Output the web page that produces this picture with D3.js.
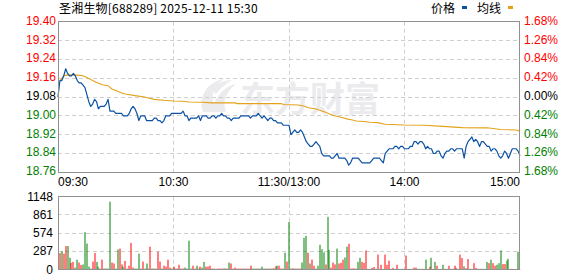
<!DOCTYPE html>
<html><head><meta charset="utf-8">
<script src="https://cdn.jsdelivr.net/npm/d3@7"></script>
<style>html,body{margin:0;padding:0;background:#fff;}svg{display:block;}</style>
</head><body>
<svg id="c" width="578" height="276"></svg>
<script>
const title = "圣湘生物[688289] 2025-12-11 15:30";
const prevClose = 19.08;
const priceTicks = [19.40, 19.32, 19.24, 19.16, 19.08, 19.00, 18.92, 18.84, 18.76];
const pctLabels = ["1.68%", "1.26%", "0.84%", "0.42%", "0.00%", "0.42%", "0.84%", "1.26%", "1.68%"];
const volTicks = [1148, 861, 574, 287, 0];
const timeLabels = ["09:30", "10:30", "11:30/13:00", "14:00", "15:00"];
const timeIdx = [0, 60, 120, 180, 240];

const prices = [
19.08,19.15,19.15,19.17,19.20,19.18,19.17,19.17,19.18,19.17,
19.15,19.14,19.14,19.13,19.12,19.09,19.06,19.04,19.05,19.07,
19.06,19.03,19.04,19.04,19.04,19.05,19.07,19.02,19.02,19.02,
19.01,19.01,19.01,19.01,19.00,19.00,19.00,19.01,19.03,19.04,
19.03,19.01,18.98,19.00,19.00,19.00,18.98,18.98,18.98,18.98,
18.99,18.99,18.98,18.98,18.97,18.98,19.00,19.00,19.00,19.01,
19.01,19.01,19.01,19.01,19.01,19.02,19.00,19.00,18.98,18.99,
18.99,18.99,18.99,19.00,18.98,19.00,19.00,19.00,18.99,18.99,
19.00,19.00,18.99,19.00,19.00,19.01,19.00,19.00,18.99,18.99,
18.98,18.99,18.99,18.99,18.99,19.00,19.00,19.00,19.00,19.00,
18.99,19.00,19.00,19.00,19.01,19.00,18.99,19.00,18.99,18.98,
18.99,18.99,18.98,18.98,18.97,18.97,18.97,18.96,18.96,18.96,
18.96,18.92,18.93,18.94,18.93,18.93,18.94,18.93,18.91,18.89,
18.88,18.87,18.87,18.88,18.89,18.88,18.87,18.84,18.83,18.83,
18.83,18.83,18.82,18.82,18.83,18.84,18.82,18.82,18.82,18.82,
18.81,18.79,18.80,18.82,18.82,18.82,18.82,18.81,18.80,18.80,
18.80,18.80,18.80,18.81,18.82,18.82,18.82,18.82,18.81,18.80,
18.84,18.85,18.86,18.86,18.86,18.87,18.87,18.86,18.87,18.87,
18.86,18.86,18.86,18.87,18.87,18.89,18.89,18.88,18.89,18.89,
18.88,18.86,18.87,18.86,18.86,18.84,18.84,18.85,18.85,18.83,
18.82,18.84,18.85,18.85,18.86,18.86,18.85,18.86,18.86,18.86,
18.86,18.82,18.87,18.89,18.90,18.91,18.89,18.90,18.89,18.87,
18.89,18.89,18.88,18.87,18.87,18.85,18.86,18.86,18.85,18.83,
18.82,18.83,18.85,18.84,18.82,18.84,18.86,18.86,18.86,18.85,
18.83
];

const avgIdx = [1,3,5,10,13,15,18,20,23,26,28,30,33,35,40,45,48,50,55,60,65,68,75,80,92,93,116,117,125,128,130,134,136,139,141,143,146,148,150,153,155,159,162,166,170,180,190,200,210,223,230,238,240];
const avgVals = [19.150,19.170,19.174,19.173,19.170,19.163,19.150,19.142,19.132,19.128,19.114,19.108,19.097,19.093,19.086,19.080,19.074,19.070,19.066,19.063,19.062,19.059,19.058,19.055,19.055,19.052,19.052,19.048,19.046,19.041,19.034,19.029,19.024,19.015,19.008,19.001,18.996,18.992,18.987,18.982,18.978,18.976,18.973,18.971,18.964,18.961,18.960,18.955,18.950,18.949,18.942,18.940,18.935];

const volumes = [
0,260,290,250,370,370,185,105,120,30,
155,110,70,80,590,410,45,15,125,260,
120,45,15,155,15,15,15,1070,110,95,
15,315,330,80,45,135,15,60,420,30,
15,15,250,15,125,15,95,15,360,15,
15,15,280,125,15,60,45,155,30,15,
45,15,15,75,15,15,30,15,455,15,
60,15,60,15,45,30,120,45,45,60,
15,15,10,15,15,15,15,15,15,110,
95,15,30,15,15,15,15,15,15,15,
60,15,15,15,15,15,45,15,15,15,
15,15,20,50,60,60,15,15,265,125,
750,15,20,15,15,15,15,110,500,530,
265,95,155,60,15,60,390,320,270,80,
830,310,30,110,80,330,95,105,155,190,
360,405,15,15,15,15,120,185,120,105,
300,10,10,25,40,10,235,10,75,10,
235,75,140,10,25,10,75,10,10,10,
10,220,10,10,10,30,30,10,10,10,
10,155,10,45,185,10,120,60,10,10,
75,10,10,60,10,10,60,25,10,235,
180,50,20,165,10,10,100,25,10,10,
10,10,10,120,100,155,100,60,75,100,
300,85,85,140,170,10,10,5,5,280,
5
];
const volDir = [
1,1,-1,1,1,-1,-1,1,1,-1,
-1,1,1,-1,-1,-1,-1,-1,1,1,
-1,-1,1,1,-1,-1,-1,-1,1,1,
-1,-1,1,1,-1,1,1,1,1,1,
-1,-1,-1,1,1,-1,-1,-1,1,1,
-1,-1,1,1,-1,1,1,1,1,-1,
1,1,1,1,1,1,-1,-1,-1,-1,
1,1,-1,1,1,-1,-1,1,1,1,
1,1,1,1,1,1,-1,-1,1,-1,
1,1,1,1,1,1,1,1,1,1,
1,-1,-1,-1,1,-1,-1,-1,1,1,
1,-1,1,1,-1,1,1,1,-1,1,
-1,-1,1,-1,1,1,1,-1,-1,-1,
1,-1,1,1,-1,-1,-1,-1,-1,1,
-1,-1,1,1,1,-1,1,1,1,-1,
-1,1,1,1,1,1,-1,-1,1,1,
1,-1,-1,1,1,-1,1,1,1,-1,
1,1,1,-1,1,-1,1,-1,-1,-1,
-1,1,1,1,1,1,1,-1,-1,-1,
-1,-1,1,1,-1,1,-1,1,-1,1,
-1,1,1,1,-1,1,1,1,-1,1,
1,-1,1,1,-1,1,1,1,1,-1,
1,1,-1,-1,1,-1,1,1,-1,-1,
-1,1,1,-1,-1,1,1,1,1,-1,
1
];

const svg = d3.select("#c");
const L = 58, R = 520;
const x = d3.scaleLinear().domain([0, 240]).range([L, R]);
const yP = d3.scaleLinear().domain([18.76, 19.40]).range([172.3, 21.7]);
const yV = d3.scaleLinear().domain([0, 1148]).range([269.5, 196.7]);
const px = v => Math.floor(v) + 0.5;
const numFont = "'Liberation Sans', Arial, sans-serif";
const cjkFont = "'Noto Sans CJK SC', sans-serif";
const RED = "#ff0000", GREEN = "#008000";

// watermark
const wm = svg.append("g").attr("fill", "#ebebee");
wm.append("path").attr("d", "M203,112 C198,98 206,82 224,79 C214,86 210,96 214,104 C218,94 226,86 236,84 C226,92 222,102 226,112 Z");
wm.append("path").attr("d", "M212,90 C216,84 224,80 232,80 C226,84 220,88 216,94 Z");
wm.append("text").attr("x", 240).attr("y", 112).attr("font-family", cjkFont)
  .attr("font-size", 35).attr("font-weight", "bold").text("东方财富");

// grids
const grid = svg.append("g").attr("stroke", "#cfcfcf").attr("stroke-width", 1).attr("stroke-dasharray", "4,3");
priceTicks.slice(1, -1).forEach(t => {
  grid.append("line").attr("x1", L).attr("x2", R).attr("y1", px(yP(t))).attr("y2", px(yP(t)));
});
volTicks.slice(1, -1).forEach(t => {
  grid.append("line").attr("x1", L).attr("x2", R).attr("y1", px(yV(t))).attr("y2", px(yV(t)));
});
timeIdx.slice(1, -1).forEach(i => {
  grid.append("line").attr("x1", px(x(i))).attr("x2", px(x(i))).attr("y1", yP(19.40)).attr("y2", yP(18.76));
  grid.append("line").attr("x1", px(x(i))).attr("x2", px(x(i))).attr("y1", yV(1148)).attr("y2", yV(0));
});

// volume bars
svg.append("g").selectAll("rect").data(volumes).join("rect")
  .attr("x", (d, i) => Math.round(x(i)) - 0.5)
  .attr("width", 1)
  .attr("y", d => yV(d))
  .attr("height", d => yV(0) - yV(d))
  .attr("fill", (d, i) => volDir[i] > 0 ? RED : GREEN);

// avg line
const avgData = avgIdx.map((m, i) => [m, avgVals[i]]);
svg.append("path").datum(avgData)
  .attr("fill", "none").attr("stroke", "#e3a21a").attr("stroke-width", 1.1)
  .attr("d", d3.line().x(d => x(d[0])).y(d => yP(d[1])));

// price line
svg.append("path").datum(prices)
  .attr("fill", "none").attr("stroke", "#0c52a3").attr("stroke-width", 1.2)
  .attr("stroke-linejoin", "round")
  .attr("d", d3.line().x((d, i) => x(i)).y(d => yP(d)));

// borders
svg.append("rect").attr("x", L + 0.5).attr("y", px(yP(19.40))).attr("width", R - L - 1)
  .attr("height", px(yP(18.76)) - px(yP(19.40))).attr("fill", "none").attr("stroke", "#919191");
svg.append("rect").attr("x", L + 0.5).attr("y", px(yV(1148))).attr("width", R - L - 1)
  .attr("height", px(yV(0)) - px(yV(1148))).attr("fill", "none").attr("stroke", "#919191");

// left price labels
const colorFor = t => Math.abs(t - prevClose) < 1e-6 ? "#000" : (t > prevClose ? RED : GREEN);
svg.append("g").selectAll("text").data(priceTicks).join("text")
  .attr("x", 56).attr("y", d => yP(d) + 3).attr("text-anchor", "end")
  .attr("font-family", numFont).attr("font-size", 12)
  .attr("fill", d => colorFor(d)).text(d => d.toFixed(2));
// right pct labels
svg.append("g").selectAll("text").data(pctLabels).join("text")
  .attr("x", 524).attr("y", (d, i) => yP(priceTicks[i]) + 3).attr("text-anchor", "start")
  .attr("font-family", numFont).attr("font-size", 12)
  .attr("fill", (d, i) => colorFor(priceTicks[i])).text(d => d);
// volume labels
svg.append("g").selectAll("text").data(volTicks).join("text")
  .attr("x", 53).attr("y", d => yV(d) + 4).attr("text-anchor", "end")
  .attr("font-family", numFont).attr("font-size", 12)
  .attr("fill", "#000").text(d => d);
// time labels
svg.append("g").selectAll("text").data(timeLabels).join("text")
  .attr("x", (d, i) => x(timeIdx[i]))
  .attr("y", 186)
  .attr("text-anchor", (d, i) => i === 0 ? "start" : (i === timeLabels.length - 1 ? "end" : "middle"))
  .attr("font-family", numFont).attr("font-size", 12).attr("fill", "#000").text(d => d);

// title
svg.append("text").attr("x", 59).attr("y", 13).attr("font-family", cjkFont)
  .attr("font-size", 12).attr("letter-spacing", 0.2).attr("fill", "#000").text(title);

// legend
svg.append("text").attr("x", 431).attr("y", 13).attr("font-family", cjkFont)
  .attr("font-size", 12).attr("fill", "#000").text("价格");
svg.append("rect").attr("x", 462).attr("y", 6).attr("width", 5).attr("height", 3).attr("fill", "#0c52a3");
svg.append("text").attr("x", 477).attr("y", 13).attr("font-family", cjkFont)
  .attr("font-size", 12).attr("fill", "#000").text("均线");
svg.append("rect").attr("x", 508).attr("y", 6).attr("width", 5).attr("height", 3).attr("fill", "#e3a21a");
</script>
</body></html>
